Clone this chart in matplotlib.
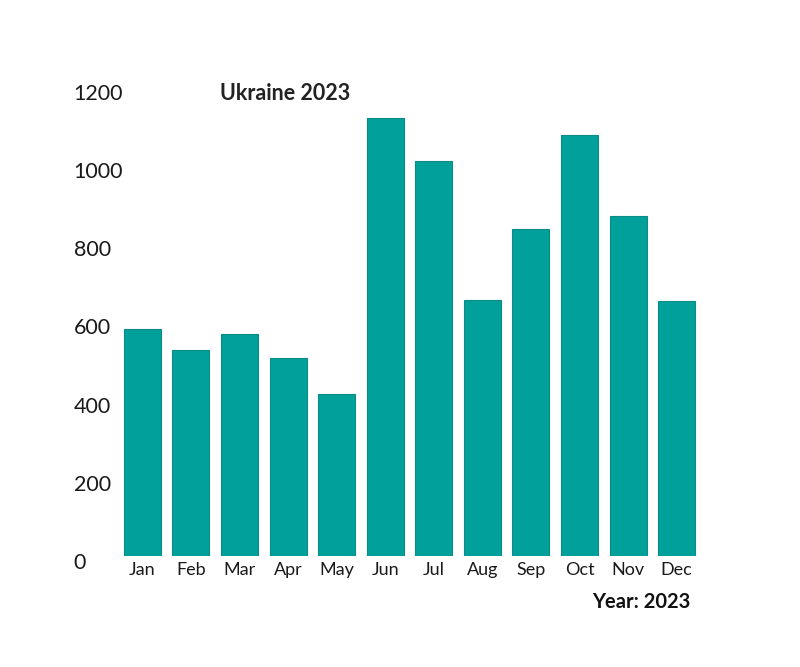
import matplotlib
matplotlib.use("Agg")
import matplotlib.pyplot as plt
from matplotlib.transforms import ScaledTranslation

months = ["Jan", "Feb", "Mar", "Apr", "May", "Jun", "Jul", "Aug", "Sep", "Oct", "Nov", "Dec"]
values = [581, 527, 568, 507, 415, 1121, 1011, 655, 837, 1077, 870, 652]
yticks = [0, 200, 400, 600, 800, 1000, 1200]

plt.rcParams['font.family'] = ['Lato', 'DejaVu Sans']

fig = plt.figure(figsize=(8, 6.67), dpi=100)
ax = fig.add_axes([118/800, 111/667, 583/800, 469/667])

x = list(range(len(months)))
ax.bar(x, values, width=0.76, color='#02a09b', edgecolor='#0b8c87', linewidth=0.8)
ax.set_xlim(-0.5, 11.5)
ax.set_ylim(0, 1200)
ax.set_xticks(x)
ax.set_xticklabels(months, fontsize=13, color='#1a1a1a')
ax.set_yticks(yticks)
ax.set_yticklabels([str(t) for t in yticks], fontsize=15.5, color='#1a1a1a')
for s in ax.spines.values():
    s.set_visible(False)
ax.tick_params(axis='both', length=0)
ax.tick_params(axis='y', pad=32)
ax.tick_params(axis='x', pad=4)
off = ScaledTranslation(0, -5/100, fig.dpi_scale_trans)
for lab in ax.get_yticklabels():
    lab.set_horizontalalignment('left')
    lab.set_transform(lab.get_transform() + off)

fig.text(220/800, 1 - 93/667, "Ukraine 2023", fontsize=15.5, fontweight='bold',
         color='#222222', ha='left', va='center')
fig.text(641/800, 1 - 602/667, "Year: 2023", fontsize=14.5, fontweight='bold',
         color='#111111', ha='center', va='center')

fig.savefig("out.png", dpi=100, facecolor='white')
